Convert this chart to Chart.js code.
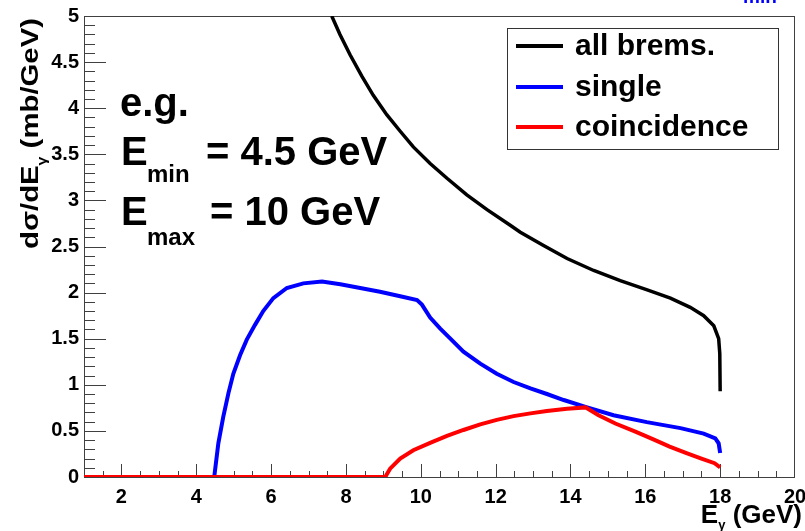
<!DOCTYPE html>
<html><head><meta charset="utf-8">
<script src="https://cdn.jsdelivr.net/npm/chart.js@4.4.0/dist/chart.umd.min.js"></script>
<style>html,body{margin:0;padding:0;background:#fff}#wrap{width:805px;height:531px}</style>
</head><body><div id="wrap"><canvas id="c" width="805" height="531"></canvas></div>
<script>
// ---- data ----
const xTickValues = [2, 4, 6, 8, 10, 12, 14, 16, 18, 20];
const yTickValues = [0, 0.5, 1, 1.5, 2, 2.5, 3, 3.5, 4, 4.5, 5];
const seriesLabels = ['all brems.', 'single', 'coincidence'];

const bremsX = [7.62, 7.84, 8.11, 8.42, 8.73, 9.09, 9.45, 9.80, 10.25, 10.70, 11.23, 11.77, 12.39, 12.66, 13.28, 13.91, 14.62, 15.33, 16.05, 16.67, 17.20, 17.56, 17.83, 17.96, 17.99, 18.00];
const bremsY = [5.00, 4.80, 4.58, 4.35, 4.14, 3.93, 3.75, 3.58, 3.40, 3.24, 3.06, 2.90, 2.73, 2.655, 2.51, 2.37, 2.24, 2.13, 2.03, 1.94, 1.84, 1.75, 1.64, 1.50, 1.34, 0.93];

const singleX = [1, 4.48, 4.59, 4.72, 4.86, 4.99, 5.17, 5.35, 5.57, 5.79, 6.06, 6.42, 6.86, 7.36, 7.85, 8.38, 8.91, 9.45, 9.90, 10.03, 10.25, 10.52, 10.79, 11.14, 11.59, 12.03, 12.48, 12.93, 13.37, 13.82, 14.40, 15.15, 16.04, 16.94, 17.56, 17.87, 17.96, 18.00];
const singleY = [0, 0, 0.365, 0.65, 0.91, 1.12, 1.32, 1.49, 1.65, 1.80, 1.94, 2.05, 2.10, 2.12, 2.09, 2.05, 2.01, 1.96, 1.92, 1.87, 1.73, 1.61, 1.50, 1.36, 1.23, 1.12, 1.03, 0.96, 0.90, 0.835, 0.76, 0.67, 0.595, 0.53, 0.47, 0.42, 0.365, 0.26];

const coincX = [1, 9.05, 9.18, 9.45, 9.80, 10.25, 10.70, 11.14, 11.59, 12.03, 12.48, 12.93, 13.37, 13.91, 14.40, 14.75, 15.20, 15.75, 16.20, 16.65, 17.10, 17.50, 17.85, 18.00];
const coincY = [0, 0, 0.09, 0.20, 0.29, 0.37, 0.445, 0.51, 0.57, 0.62, 0.66, 0.69, 0.715, 0.74, 0.755, 0.67, 0.58, 0.49, 0.41, 0.33, 0.26, 0.20, 0.15, 0.105];

const toPts = (xs, ys) => xs.map((x, i) => ({x: x, y: ys[i]}));

const FONT = '"Liberation Sans", Arial, Helvetica, sans-serif';

const decor = {
  id: 'rootDecor',
  beforeDatasetsDraw(chart) {
    const {ctx, chartArea: a, scales: {x, y}} = chart;
    ctx.save();
    ctx.strokeStyle = '#404040';
    ctx.lineWidth = 1;
    ctx.strokeRect(Math.round(a.left) + 0.5, Math.round(a.top) + 0.5, Math.round(a.right - a.left) - 1, Math.round(a.bottom - a.top));
    ctx.beginPath();
    for (let v = 1.5; v < 20; v += 0.5) {
      const px = Math.round(x.getPixelForValue(v)) + 0.5;
      const major = Math.abs(v / 2 - Math.round(v / 2)) < 1e-6;
      const len = major ? 13 : 6;
      ctx.moveTo(px, a.bottom);
      ctx.lineTo(px, a.bottom - len);
    }
    for (let k = 1; k < 50; k++) {
      const v = k / 10;
      const py = Math.round(y.getPixelForValue(v)) + 0.5;
      const major = k % 5 === 0;
      const len = major ? 22 : 11;
      ctx.moveTo(a.left, py);
      ctx.lineTo(a.left + len, py);
    }
    ctx.stroke();
    ctx.restore();
  },
  afterDraw(chart) {
    const {ctx} = chart;
    ctx.save();
    ctx.fillStyle = '#000';
    ctx.textBaseline = 'alphabetic';
    ctx.textAlign = 'left';
    // annotation
    ctx.font = 'bold 40px ' + FONT;
    ctx.fillText('e.g.', 120, 116);
    ctx.fillText('E', 121, 165);
    ctx.fillText('= 4.5 GeV', 206, 165);
    ctx.fillText('E', 121, 225);
    ctx.fillText('= 10 GeV', 210, 225);
    ctx.font = 'bold 24px ' + FONT;
    ctx.fillText('min', 147, 182);
    ctx.fillText('max', 147, 245);

    // legend box
    ctx.fillStyle = '#fff';
    ctx.fillRect(508, 29, 270, 120);
    ctx.strokeStyle = '#333';
    ctx.lineWidth = 1;
    ctx.strokeRect(507.5, 28.5, 271, 121);
    const rows = [46, 87, 127];
    chart.data.datasets.forEach((ds, i) => {
      ctx.strokeStyle = ds.borderColor;
      ctx.lineWidth = 4;
      ctx.beginPath();
      ctx.moveTo(516, rows[i]);
      ctx.lineTo(563, rows[i]);
      ctx.stroke();
      ctx.fillStyle = '#000';
      ctx.font = 'bold 30px ' + FONT;
      ctx.textBaseline = 'middle';
      ctx.fillText(ds.label, 575, rows[i] + 1);
    });

    // y title (rotated)
    ctx.textBaseline = 'alphabetic';
    ctx.save();
    ctx.translate(38, 249);
    ctx.rotate(-Math.PI / 2);
    const big = 'bold 24px ' + FONT, small = 'bold 13px ' + FONT;
    ctx.font = big; const w1 = ctx.measureText('d\u03C3/dE').width;
    ctx.font = small; const w2 = ctx.measureText('\u03B3').width;
    ctx.font = big; const w3 = ctx.measureText(' (mb/GeV)').width;
    const sc = 231 / (w1 + w2 + w3);
    ctx.scale(sc, 1);
    ctx.fillStyle = '#000';
    ctx.font = big; ctx.fillText('d\u03C3/dE', 0, 0);
    ctx.font = small; ctx.fillText('\u03B3', w1, 8);
    ctx.font = big; ctx.fillText(' (mb/GeV)', w1 + w2, 0);
    ctx.restore();

    // x title
    ctx.font = 'bold 26px ' + FONT;
    const t1 = ctx.measureText('E').width;
    const t3 = ctx.measureText(' (GeV)').width;
    ctx.font = 'bold 13px ' + FONT;
    const t2 = ctx.measureText('\u03B3').width;
    const xs = 802 - (t1 + t2 + t3);
    ctx.font = 'bold 26px ' + FONT;
    ctx.fillText('E', xs, 523);
    ctx.fillText(' (GeV)', xs + t1 + t2, 523);
    ctx.font = 'bold 13px ' + FONT;
    ctx.fillText('\u03B3', xs + t1, 529);

    // clipped blue text at top right
    ctx.fillStyle = '#0000ff';
    ctx.font = 'bold 19px ' + FONT;
    ctx.fillText('min', 743, 3);
    ctx.restore();
  }
};

new Chart(document.getElementById('c'), {
  type: 'line',
  data: {
    datasets: [
      {label: seriesLabels[0], data: toPts(bremsX, bremsY), borderColor: '#000000', borderWidth: 3.5, order: 3},
      {label: seriesLabels[1], data: toPts(singleX, singleY), borderColor: '#0000ff', borderWidth: 4, order: 2},
      {label: seriesLabels[2], data: toPts(coincX, coincY), borderColor: '#ff0000', borderWidth: 4, order: 1}
    ]
  },
  options: {
    responsive: false,
    animation: false,
    devicePixelRatio: 1,
    elements: {point: {radius: 0}, line: {tension: 0, fill: false, borderCapStyle: 'butt'}},
    layout: {padding: {top: 16, right: 10, left: 0, bottom: 0}},
    plugins: {legend: {display: false}, tooltip: {enabled: false}},
    scales: {
      x: {
        type: 'linear', min: 1, max: 20,
        afterBuildTicks: s => { s.ticks = xTickValues.map(v => ({value: v})); },
        afterFit: s => { s.height = 54; s.paddingLeft = 0; s.paddingRight = 0; },
        grid: {display: false, drawTicks: false},
        border: {display: false},
        ticks: {padding: 8, color: '#000', font: {family: FONT, size: 20, weight: 'bold'}, maxRotation: 0, autoSkip: false, callback: v => String(v)}
      },
      y: {
        type: 'linear', min: 0, max: 5,
        afterBuildTicks: s => { s.ticks = yTickValues.map(v => ({value: v})); },
        afterFit: s => { s.width = 84; s.paddingTop = 0; s.paddingBottom = 0; },
        grid: {display: false, drawTicks: false},
        border: {display: false},
        ticks: {padding: 5, color: '#000', font: {family: FONT, size: 20, weight: 'bold'}, autoSkip: false, callback: v => String(v)}
      }
    }
  },
  plugins: [decor]
});
</script></body></html>
